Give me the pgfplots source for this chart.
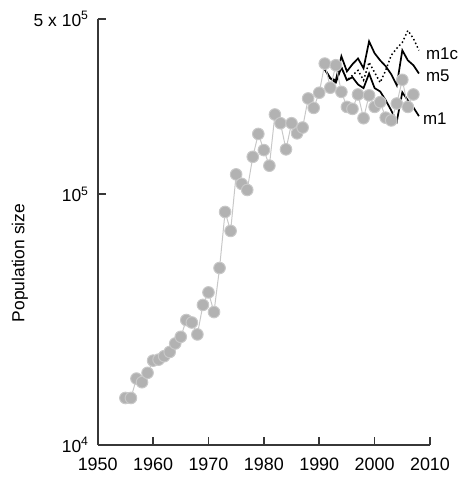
\documentclass[border=0pt]{standalone}
\usepackage{pgfplots}
\pgfplotsset{compat=1.18}
\usepackage{fontspec}
\setmainfont{Liberation Sans}
\definecolor{dotgray}{RGB}{178,178,178}
\definecolor{linegray}{RGB}{200,200,200}
\definecolor{axgray}{RGB}{55,55,55}
\begin{document}
\begin{tikzpicture}
\path[use as bounding box] (0,0) rectangle (468bp,477bp);
\begin{axis}[
  at={(97.7bp,32bp)}, anchor=south west,
  width=332.3bp, height=426bp, scale only axis,
  ymode=log, xmin=1950, xmax=2010, ymin=1e4, ymax=5e5,
  axis x line=bottom, axis y line=left,
  axis line style={-, line width=1.6bp, color=axgray},
  tick style={line width=1.5bp, color=axgray},
  tick align=inside, major tick length=8bp,
  xtick={1950,1960,1970,1980,1990,2000,2010},
  xticklabels={1950,1960,1970,1980,1990,2000,2010},
  ytick={1e4,1e5,5e5},
  yticklabels={10\textsuperscript{4},10\textsuperscript{5},5 x 10\textsuperscript{5}},
  yminorticks=false, xminorticks=false,
  xticklabel style={font=\fontsize{18}{20}\selectfont, anchor=north, inner sep=0pt, yshift=-13bp},
  yticklabel style={font=\fontsize{17.5}{20}\selectfont, anchor=east, inner sep=0pt, xshift=-9bp},
  clip=false,
]
\addplot[black, line width=1.7bp] coordinates {
(1991,315000) (1992,290000) (1993,285000) (1994,355000) (1995,309000) (1996,330000)
(1997,348000) (1998,318000) (1999,407000) (2000,365000) (2001,342000) (2002,324000)
(2003,301000) (2004,272000) (2005,375000) (2006,342000) (2007,327000) (2008,303000)};
\addplot[black, line width=1.7bp] coordinates {
(1991,315000) (1992,290000) (1993,279000) (1994,321000) (1995,285000) (1996,293000)
(1997,274000) (1998,265000) (1999,303000) (2000,265000) (2001,257000) (2002,237000)
(2003,216000) (2004,195000) (2005,255000) (2006,237000) (2007,222000) (2008,205000)};
\addplot[black, line width=1.5bp, dash pattern=on 1.5bp off 2.5bp] coordinates {
(1994,321000) (1995,285000) (1996,298000) (1997,312000) (1998,285000) (1999,336000)
(2000,306000) (2001,279000) (2002,312000) (2003,358000) (2004,382000) (2005,403000)
(2006,450000) (2007,418000) (2008,375000)};
\addplot[linegray, line width=1bp, mark=*, mark size=5.8bp,
  mark options={draw=none, fill=dotgray}] coordinates {
(1955,15400) (1956,15400) (1957,18400) (1958,17800) (1959,19400) (1960,21700)
(1961,21900) (1962,22600) (1963,23500) (1964,25400) (1965,27000) (1966,31500)
(1967,30800) (1968,27600) (1969,36200) (1970,40600) (1971,33900) (1972,50800)
(1973,85000) (1974,71400) (1975,120000) (1976,110000) (1977,104000) (1978,141000)
(1979,174000) (1980,150000) (1981,130000) (1982,208000) (1983,192000) (1984,151000)
(1985,192000) (1986,175000) (1987,184500) (1988,241000) (1989,221000) (1990,254000)
(1991,332000) (1992,266000) (1993,327000) (1994,256000) (1995,223000) (1996,219000)
(1997,250000) (1998,201000) (1999,248000) (2000,223000) (2001,233000) (2002,202000)
(2003,197000) (2004,230000) (2005,286000) (2006,223000) (2007,250000)};
\node[anchor=west, inner sep=0pt, font=\fontsize{17}{19}\selectfont] at (axis cs:2009.26,365000) {m1c};
\node[anchor=west, inner sep=0pt, font=\fontsize{17}{19}\selectfont] at (axis cs:2009.26,298000) {m5};
\node[anchor=west, inner sep=0pt, font=\fontsize{17}{19}\selectfont] at (axis cs:2008.7,201000) {m1};
\node[rotate=90, font=\fontsize{17.5}{20}\selectfont] at (rel axis cs:-0.234,0.427) {Population size};
\end{axis}
\end{tikzpicture}
\end{document}
